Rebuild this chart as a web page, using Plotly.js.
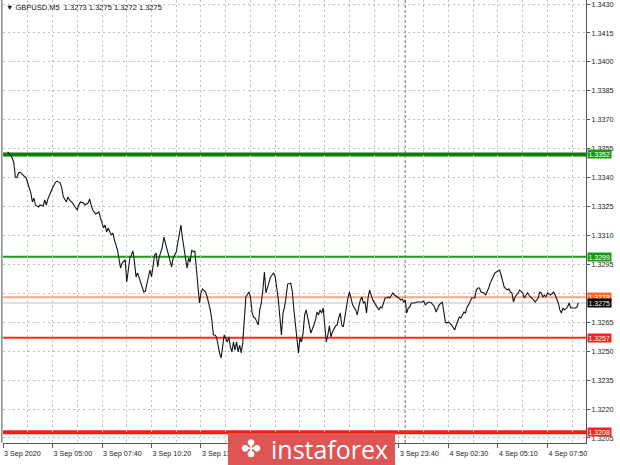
<!DOCTYPE html>
<html>
<head>
<meta charset="utf-8">
<script src="https://cdn.plot.ly/plotly-3.0.1.min.js"></script>
<style>html,body{margin:0;padding:0;background:#fff;}#chart{width:620px;height:465px;}</style>
</head>
<body>
<div id="chart"></div>
<script>
// ---- data (M5 bar index from 3 Sep 02:20, close price) ----
const bars = [3,6,7,8,9,10,11,13,15,16,18,19,20,21,23,24,26,27,28,29,30,32,34,35,37,38,39,41,42,43,45,47,48,49,50,52,53,55,56,57,58,60,62,63,64,65,66,67,68,70,71,72,74,75,76,77,79,80,81,82,83,84,85,86,87,88,90,91,92,94,95,96,97,98,99,100,101,103,104,105,106,107,108,109,110,112,113,114,115,116,117,119,120,121,122,123,124,125,126,127,128,129,131,132,134,135,136,137,138,139,140,141,142,143,145,146,147,148,149,150,151,152,153,154,155,156,157,159,160,161,162,163,165,166,167,168,169,170,171,173,174,175,176,177,178,179,180,181,182,183,184,186,187,188,189,190,191,192,193,194,195,196,197,198,199,201,202,203,204,205,206,207,208,209,210,211,212,213,215,216,217,218,219,220,221,222,223,224,225,226,228,229,230,231,232,233,234,235,236,237,238,239,241,242,243,244,245,246,247,248,249,250,251,252,253,255,256,257,258,259,260,261,262,263,264,266,268,271,272,273,275,277,279,280,281,282,284,285,286,287,288,290,291,292,293,294,295,296,298,299,300,301,302,303,305,306,307,308,309,311,312,313,314,315,316,317,318,319,320,321,322,323,324,326,327,328,329,330,331,333,334,336,337,339,340,341,343,344,346,347,348,349,350,351,352,354,356,357,359,360,361,362,363,365,366,367,368,370,371,372];
const prices = [1.33534,1.33502,1.33476,1.33403,1.33400,1.33424,1.33428,1.33414,1.33398,1.33372,1.33320,1.33274,1.33294,1.33258,1.33248,1.33258,1.33253,1.33284,1.33258,1.33289,1.33310,1.33346,1.33377,1.33382,1.33372,1.33346,1.33300,1.33274,1.33300,1.33284,1.33268,1.33248,1.33232,1.33258,1.33274,1.33268,1.33258,1.33268,1.33289,1.33258,1.33232,1.33211,1.33222,1.33191,1.33170,1.33139,1.33154,1.33118,1.33139,1.33102,1.33113,1.33077,1.33025,1.32983,1.32931,1.32957,1.32973,1.32859,1.32937,1.32983,1.32999,1.33020,1.32962,1.32885,1.32906,1.32880,1.32833,1.32807,1.32812,1.32885,1.32921,1.32885,1.32947,1.32999,1.33009,1.32937,1.32988,1.33040,1.33092,1.33061,1.33035,1.33009,1.32973,1.32937,1.32983,1.33014,1.33061,1.33102,1.33154,1.33087,1.33025,1.32931,1.32983,1.32962,1.33025,1.33014,1.33020,1.32931,1.32843,1.32750,1.32802,1.32823,1.32807,1.32781,1.32714,1.32662,1.32584,1.32584,1.32574,1.32522,1.32491,1.32465,1.32522,1.32584,1.32548,1.32574,1.32522,1.32496,1.32548,1.32506,1.32548,1.32496,1.32532,1.32491,1.32543,1.32662,1.32781,1.32807,1.32781,1.32703,1.32677,1.32672,1.32636,1.32714,1.32750,1.32817,1.32911,1.32802,1.32833,1.32885,1.32895,1.32906,1.32885,1.32833,1.32766,1.32677,1.32584,1.32698,1.32729,1.32781,1.32848,1.32853,1.32812,1.32719,1.32646,1.32558,1.32491,1.32569,1.32548,1.32594,1.32688,1.32714,1.32672,1.32636,1.32594,1.32636,1.32662,1.32703,1.32688,1.32714,1.32698,1.32724,1.32636,1.32548,1.32584,1.32631,1.32574,1.32600,1.32631,1.32636,1.32672,1.32698,1.32636,1.32626,1.32677,1.32740,1.32776,1.32807,1.32766,1.32740,1.32714,1.32688,1.32729,1.32766,1.32781,1.32750,1.32755,1.32698,1.32776,1.32817,1.32791,1.32766,1.32740,1.32724,1.32714,1.32729,1.32724,1.32750,1.32776,1.32776,1.32781,1.32776,1.32791,1.32802,1.32791,1.32781,1.32776,1.32766,1.32771,1.32755,1.32766,1.32698,1.32724,1.32729,1.32750,1.32750,1.32755,1.32755,1.32760,1.32740,1.32755,1.32750,1.32729,1.32703,1.32719,1.32740,1.32755,1.32688,1.32651,1.32646,1.32651,1.32636,1.32626,1.32610,1.32636,1.32662,1.32677,1.32672,1.32703,1.32698,1.32729,1.32740,1.32755,1.32776,1.32776,1.32817,1.32828,1.32828,1.32807,1.32802,1.32791,1.32807,1.32828,1.32853,1.32869,1.32885,1.32906,1.32911,1.32916,1.32921,1.32895,1.32859,1.32833,1.32817,1.32823,1.32807,1.32802,1.32755,1.32781,1.32802,1.32817,1.32802,1.32776,1.32802,1.32791,1.32781,1.32766,1.32755,1.32776,1.32807,1.32802,1.32781,1.32791,1.32781,1.32802,1.32791,1.32807,1.32791,1.32750,1.32714,1.32698,1.32724,1.32714,1.32729,1.32750,1.32724,1.32724,1.32724,1.32729,1.32750];

// x tick labels; the ones hidden behind the logo in the reference are left blank
const xTickBars = [0,32,64,96,128,160,192,224,256,288,320,352];
const xTickLabels = ["3 Sep 2020","3 Sep 05:00","3 Sep 07:40","3 Sep 10:20","3 Sep 13:00","","","","3 Sep 23:40","4 Sep 02:30","4 Sep 05:10","4 Sep 07:50"];
// y tick labels; 1.3280 is covered by the level boxes in the reference
const yTickValues = [1.3205,1.3220,1.3235,1.3250,1.3265,1.3280,1.3295,1.3310,1.3325,1.3340,1.3355,1.3370,1.3385,1.3400,1.3415,1.3430];
const yTickLabels = ["1.3205","1.3220","1.3235","1.3250","1.3265","","1.3295","1.3310","1.3325","1.3340","1.3355","1.3370","1.3385","1.3400","1.3415","1.3430"];

const levelValues = [1.3352, 1.3299, 1.3278, 1.3275, 1.3257, 1.3208];
const levelLabels = ["1.3352","1.3299","1.3278","1.3275","1.3257","1.3208"];
const daySeparatorBar = 260;
const titleText = "\u25BC GBPUSD,M5  1.3273 1.3275 1.3272 1.3275";

// ---- styles ----
const levelLineColors = ["#0b7d0b","#19a019","#ffa486","#c0c0c0","#ff2a1e","#ff1a10"];
const levelLineWidths = [4, 2, 2, 1, 2, 4];
const levelBoxColors = ["#139b13","#139b13","#ff6a2a","#000000","#ff1f1f","#ff1f1f"];

const FONT = "Liberation Sans, Arial, sans-serif";
const gridColor = "#c0c0c0";

const shapes = [];
levelValues.forEach((v, i) => {
  shapes.push({type:"line", xref:"paper", yref:"y", x0:0, x1:1, y0:v, y1:v,
    line:{color:levelLineColors[i], width:levelLineWidths[i]}, layer:"below"});
});
shapes.push({type:"line", xref:"x", yref:"paper", x0:daySeparatorBar, x1:daySeparatorBar, y0:0, y1:1,
  line:{color:"#707070", width:1, dash:"3px,2px"}, layer:"below"});
shapes.push({type:"line", xref:"paper", yref:"paper", x0:-0.002, x1:-0.002, y0:0, y1:1,
  line:{color:"#8a8a8a", width:1.5}});
// logo box
shapes.push({type:"rect", xref:"paper", yref:"paper",
  x0:(228-3)/583, x1:(395-3)/583, y0:(443-466)/443, y1:(443-433)/443,
  fillcolor:"#dd5555", line:{width:0}, layer:"above"});

const annotations = [];
levelValues.forEach((v, i) => {
  annotations.push({xref:"paper", yref:"y", x:1, y:v, xanchor:"left", yanchor:"middle", xshift:1,
    text:levelLabels[i], showarrow:false, bgcolor:levelBoxColors[i], borderpad:0.5,
    font:{family:FONT, size:7, color:"#ffffff"}});
});
annotations.push({xref:"paper", yref:"paper", x:0, y:1, xanchor:"left", yanchor:"top", xshift:1, yshift:-1,
  text:titleText, showarrow:false, font:{family:FONT, size:7.5, color:"#111"}});
annotations.push({xref:"paper", yref:"paper", x:(251-3)/583, y:(443-449)/443, xanchor:"center", yanchor:"middle",
  text:"\u2724", showarrow:false, font:{family:"DejaVu Sans", size:24, color:"#ffffff"}});
annotations.push({xref:"paper", yref:"paper", x:(329-3)/583, y:(443-449)/443, xanchor:"center", yanchor:"middle",
  text:"instaforex", showarrow:false, font:{family:"Open Sans", size:25, color:"#ffffff"}});

const trace = {x:bars, y:prices, type:"scatter", mode:"lines",
  line:{color:"#151515", width:1.1}, hoverinfo:"skip"};

const layout = {
  width:620, height:465,
  margin:{l:3, r:34, t:0, b:22, pad:0},
  paper_bgcolor:"#ffffff", plot_bgcolor:"#ffffff",
  showlegend:false,
  xaxis:{range:[0,376.9], tickmode:"array", tickvals:xTickBars, ticktext:xTickLabels,
    ticks:"outside", ticklen:4, tickcolor:"#555", showline:true, linecolor:"#555", linewidth:1,
    showgrid:true, gridcolor:gridColor, griddash:"2px,3px", zeroline:false,
    ticklabelposition:"outside right", ticklabelstandoff:3,
    tickfont:{family:FONT, size:7.2, color:"#222"},
    minor:{tickmode:"linear", tick0:0, dtick:16, showgrid:true, gridcolor:gridColor, griddash:"2px,3px", ticks:""}},
  yaxis:{side:"right", range:[1.32024,1.34321], tickmode:"array",
    tickvals:yTickValues, ticktext:yTickLabels, ticklabeloverflow:"allow",
    ticks:"outside", ticklen:3, tickcolor:"#555", showline:true, linecolor:"#555", linewidth:1,
    showgrid:true, gridcolor:gridColor, griddash:"2px,3px", zeroline:false,
    tickfont:{family:FONT, size:7.2, color:"#222"}},
  shapes:shapes, annotations:annotations
};

Plotly.newPlot("chart", [trace], layout, {staticPlot:true, displayModeBar:false});
</script>
</body>
</html>
